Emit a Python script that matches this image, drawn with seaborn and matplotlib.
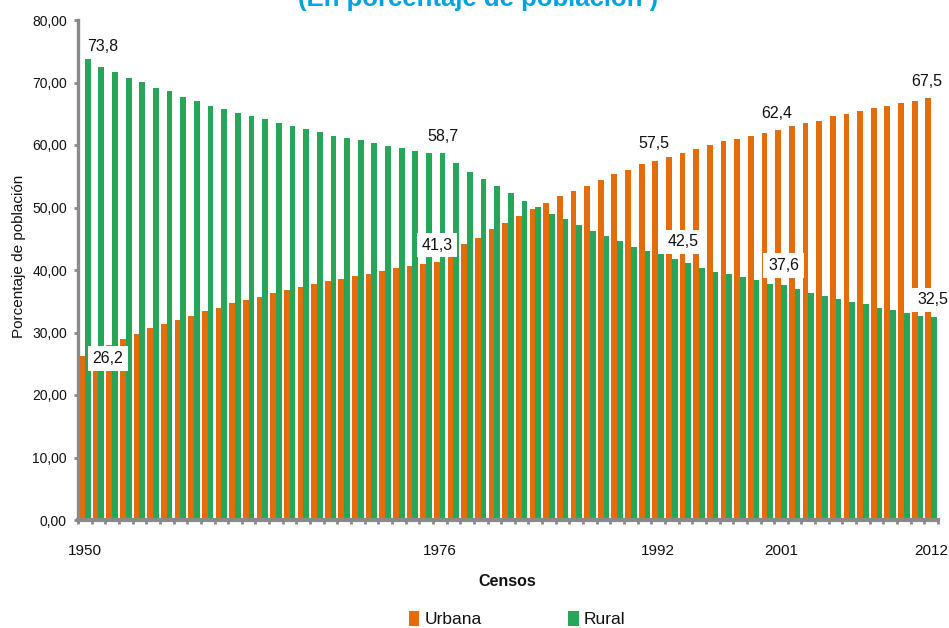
"""
Población urbana y rural por año censal (1950-2012), barras agrupadas.
"""
import numpy as np
import pandas as pd
import matplotlib
matplotlib.use("Agg")
import matplotlib.pyplot as plt
import seaborn as sns

# ─── Data ────────────────────────────────────────────────────────────────────

years = list(range(1950, 2013))

urbana = [
    26.2, 27.3, 28.0, 28.9, 29.8, 30.7, 31.3, 32.0, 32.7, 33.4,
    34.0, 34.7, 35.2, 35.7, 36.3, 36.8, 37.3, 37.7, 38.2, 38.6,
    39.0, 39.4, 39.9, 40.3, 40.6, 41.0, 41.3, 42.8, 44.1, 45.2,
    46.5, 47.6, 48.7, 49.8, 50.7, 51.8, 52.6, 53.5, 54.4, 55.3,
    56.0, 56.9, 57.5, 58.1, 58.8, 59.4, 60.0, 60.6, 61.0, 61.5,
    62.0, 62.4, 63.0, 63.5, 63.9, 64.6, 65.0, 65.4, 65.9, 66.3,
    66.7, 67.0, 67.5,
]

rural = [
    73.8, 72.5, 71.7, 70.8, 70.1, 69.2, 68.6, 67.7, 67.0, 66.3,
    65.7, 65.2, 64.6, 64.2, 63.5, 63.0, 62.6, 62.1, 61.5, 61.1,
    60.8, 60.4, 59.9, 59.5, 59.0, 58.8, 58.7, 57.1, 55.7, 54.5,
    53.4, 52.3, 51.1, 50.1, 49.0, 48.1, 47.2, 46.3, 45.4, 44.6,
    43.7, 43.0, 42.5, 41.7, 41.1, 40.4, 39.7, 39.3, 38.9, 38.4,
    37.8, 37.6, 36.9, 36.4, 35.8, 35.3, 34.9, 34.5, 34.0, 33.6,
    33.1, 32.7, 32.5,
]

censos = [1950, 1976, 1992, 2001, 2012]
series_names = ["Urbana", "Rural"]
colors = {"Urbana": "#E46C0A", "Rural": "#27A659"}

# ─── Plot ────────────────────────────────────────────────────────────────────

df = pd.DataFrame({
    "Año": [str(y) for y in years] * 2,
    "Valor": urbana + rural,
    "Zona": ["Urbana"] * len(years) + ["Rural"] * len(years),
})

sns.set_theme(style="white")
plt.rcParams["font.family"] = ["Liberation Sans", "DejaVu Sans"]
gray = "#8A8A8A"
ink = "#111111"

fig = plt.figure(figsize=(9.49, 6.28), dpi=100)
ax = fig.add_axes([78 / 949, 108 / 628, 860 / 949, 500 / 628])

sns.barplot(
    data=df, x="Año", y="Valor", hue="Zona",
    order=[str(y) for y in years], hue_order=series_names,
    palette=colors, saturation=1, width=0.84, linewidth=0,
    edgecolor="none", ax=ax,
)

ax.set_xlim(-0.5, len(years) - 0.5)
ax.set_ylim(0, 80)

# y axis
yt = np.arange(0, 81, 10)
ax.set_yticks(yt)
ax.set_yticklabels([f"{v:.2f}".replace(".", ",") for v in yt], fontsize=10,
                   color=ink)
ax.tick_params(axis="y", length=3, width=2, color=gray, pad=5, left=True)

# x axis: labels only on census years, ticks between categories
pos = [years.index(y) for y in censos]
ax.set_xticks(pos)
ax.set_xticklabels([str(y) for y in censos], fontsize=11, color=ink)
ax.tick_params(axis="x", which="major", length=0, pad=17)
ax.set_xticks(np.arange(-0.5, len(years), 1), minor=True)
ax.tick_params(axis="x", which="minor", length=3, width=2, color=gray,
               bottom=True)

ax.set_xlabel("")
ax.set_ylabel("")
sns.despine(ax=ax)
ax.spines["left"].set_color(gray)
ax.spines["left"].set_linewidth(2.4)
ax.spines["bottom"].set_color(gray)
ax.spines["bottom"].set_linewidth(3)

# data labels for census years (x offset in categories, y in %)
label_spots = [
    ("Rural", 1950, 1.33, 75.8), ("Urbana", 1950, 1.7, 25.8),
    ("Rural", 1976, 26.2, 61.3), ("Urbana", 1976, 25.8, 44.0),
    ("Urbana", 1992, 41.7, 60.2), ("Rural", 1992, 43.8, 44.5),
    ("Urbana", 2001, 50.7, 65.1), ("Rural", 2001, 51.2, 40.7),
    ("Urbana", 2012, 61.7, 70.1), ("Rural", 2012, 62.1, 35.2),
]
for zona, yr, lx, ly in label_spots:
    vals = urbana if zona == "Urbana" else rural
    txt = f"{vals[years.index(yr)]:.1f}".replace(".", ",")
    ax.text(lx, ly, txt, ha="center", va="center", fontsize=11.5,
            color=ink, clip_on=False, zorder=5,
            bbox=dict(boxstyle="square,pad=0.3", fc="white", ec="none"))

# legend
handles, labels = ax.get_legend_handles_labels()
ax.legend_.remove()
fig.legend(handles, labels, loc="center", bbox_to_anchor=(517 / 949, 1 - 619 / 628),
           ncol=2, frameon=False, fontsize=12.5, handlelength=0.6,
           handleheight=1.0, handletextpad=0.3, columnspacing=5.0,
           labelcolor=ink)

# axis titles
fig.text(19 / 949, 1 - 256 / 628, "Porcentaje de población", rotation=90,
         ha="center", va="center", fontsize=11, color=ink)
fig.text(507 / 949, 1 - 582 / 628, "Censos", ha="center", va="center",
         fontsize=11.5, fontweight="bold", color=ink)

# title (top cut off, as in the source)
fig.text(478 / 949, 1 - 6 / 628, "(En porcentaje de población )",
         ha="center", va="baseline", fontsize=18.5, fontweight="bold",
         color="#00A3E0")

fig.savefig("out.png", dpi=100)
plt.close(fig)
